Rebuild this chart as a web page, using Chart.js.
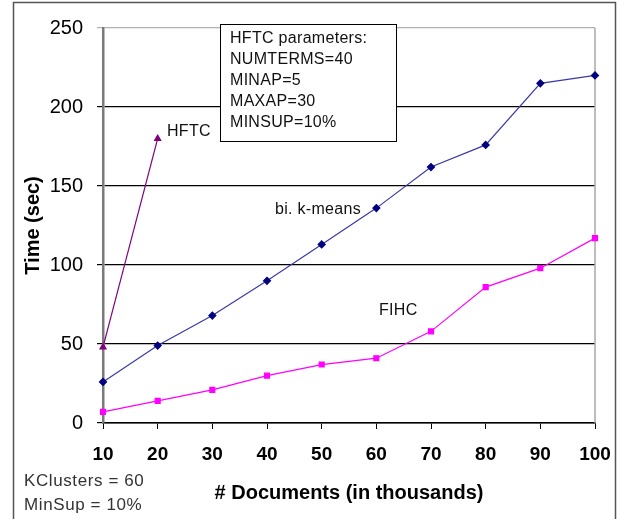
<!DOCTYPE html>
<html lang="en">
<head>
    <meta charset="UTF-8">
    <title>Time vs # Documents</title>
    <style>
        body {
            margin: 0;
            background: #fff;
        }
        #wrap {
            width: 626px;
            height: 519px;
        }
    </style>
    <script src="https://cdn.jsdelivr.net/npm/chart.js"></script>
</head>
<body>
    <div id="wrap">
        <canvas id="timeChart" width="626" height="519"></canvas>
    </div>
    <script>
        // data
        const docs = [10, 20, 30, 40, 50, 60, 70, 80, 90, 100];
        const biKMeans = [26, 49, 68, 90, 113, 136, 162, 176, 215, 220];
        const fihc = [7, 14, 21, 30, 37, 41, 58, 86, 98, 117];
        const hftc = [48, 180, null, null, null, null, null, null, null, null];
        const yTicks = [0, 50, 100, 150, 200, 250];

        const paramLines = ['HFTC parameters:', 'NUMTERMS=40', 'MINAP=5', 'MAXAP=30', 'MINSUP=10%'];
        const noteLines = ['KClusters = 60', 'MinSup = 10%'];

        // text labels placed next to the curves (pixel positions)
        const curveLabels = [
            { text: 'HFTC', x: 167, y: 132 },
            { text: 'bi. k-means', x: 275, y: 210 },
            { text: 'FIHC', x: 379, y: 311 }
        ];

        const font = "'Liberation Sans', Arial, sans-serif";

        const decorations = {
            id: 'decorations',
            beforeDraw(chart) {
                const ctx = chart.ctx;
                ctx.save();
                ctx.fillStyle = '#fff';
                ctx.fillRect(0, 0, chart.width, chart.height);
                ctx.strokeStyle = '#555';
                ctx.lineWidth = 1.5;
                ctx.strokeRect(13.5, 2.5, 602, 600);
                ctx.restore();
            },
            beforeDatasetsDraw(chart) {
                const { ctx, chartArea } = chart;
                ctx.save();
                // gray plot frame on the right
                ctx.strokeStyle = '#a8a8a8';
                ctx.lineWidth = 1.5;
                ctx.beginPath();
                ctx.moveTo(chartArea.right, chartArea.top);
                ctx.lineTo(chartArea.right, chartArea.bottom);
                ctx.stroke();
                ctx.restore();
            },
            afterDatasetsDraw(chart) {
                const ctx = chart.ctx;
                ctx.save();
                ctx.fillStyle = '#111';
                ctx.textBaseline = 'middle';
                ctx.textAlign = 'left';
                ctx.font = '16px ' + font;
                ctx.letterSpacing = '0.3px';
                curveLabels.forEach(l => ctx.fillText(l.text, l.x, l.y));

                // parameter box
                ctx.fillStyle = '#fff';
                ctx.fillRect(220, 24, 176, 117);
                ctx.strokeStyle = '#000';
                ctx.lineWidth = 1;
                ctx.strokeRect(220.5, 24.5, 176, 117);
                ctx.fillStyle = '#111';
                paramLines.forEach((t, i) => ctx.fillText(t, 230, 39 + i * 21));

                ctx.font = '17px ' + font;
                ctx.letterSpacing = '0.6px';
                ctx.fillStyle = '#333';
                noteLines.forEach((t, i) => ctx.fillText(t, 24, 481 + i * 24));
                ctx.restore();
            }
        };

        new Chart(document.getElementById('timeChart'), {
            type: 'line',
            data: {
                labels: docs,
                datasets: [
                    {
                        label: 'bi. k-means',
                        data: biKMeans,
                        borderColor: '#3a3aa8',
                        backgroundColor: '#000080',
                        pointBorderColor: '#000080',
                        pointStyle: 'rectRot',
                        pointRadius: 3.5,
                        borderWidth: 1.2
                    },
                    {
                        label: 'FIHC',
                        data: fihc,
                        borderColor: '#ff00ff',
                        backgroundColor: '#ff00ff',
                        pointStyle: 'rect',
                        pointRadius: 3.5,
                        borderWidth: 1.2
                    },
                    {
                        label: 'HFTC',
                        data: hftc,
                        borderColor: '#800080',
                        backgroundColor: '#800080',
                        pointStyle: 'triangle',
                        pointRadius: 3.5,
                        borderWidth: 1.2
                    }
                ]
            },
            options: {
                responsive: false,
                animation: false,
                layout: { padding: { left: 0, top: 28, right: 31, bottom: 0 } },
                plugins: {
                    legend: { display: false },
                    tooltip: { enabled: false }
                },
                scales: {
                    x: {
                        offset: false,
                        afterFit(scale) { scale.height = 96; },
                        grid: {
                            drawOnChartArea: false,
                            drawTicks: true,
                            tickLength: 6,
                            color: '#000'
                        },
                        border: { color: '#000', width: 1.5 },
                        ticks: {
                            color: '#000',
                            font: { family: font, size: 19, weight: 'bold' },
                            padding: 14,
                            maxRotation: 0,
                            autoSkip: false
                        },
                        title: {
                            display: true,
                            text: '# Documents (in thousands)',
                            color: '#000',
                            font: { family: font, size: 20, weight: 'bold' },
                            padding: { top: 0, bottom: 14 }
                        }
                    },
                    y: {
                        min: 0,
                        max: 250,
                        afterFit(scale) { scale.width = 103; },
                        afterBuildTicks(scale) { scale.ticks = yTicks.map(v => ({ value: v })); },
                        grid: {
                            tickLength: 6,
                            lineWidth: 1.2,
                            color: ctx => ctx.tick && ctx.tick.value === 250 ? '#b0b0b0' : '#000'
                        },
                        border: { color: '#7a7a7a', width: 2.5 },
                        ticks: {
                            color: '#000',
                            font: { family: font, size: 20 },
                            padding: 14
                        },
                        title: {
                            display: true,
                            text: 'Time (sec)',
                            color: '#000',
                            font: { family: font, size: 20, weight: 'bold' },
                            padding: { top: 21, bottom: 0 }
                        }
                    }
                }
            },
            plugins: [decorations]
        });
    </script>
</body>
</html>
